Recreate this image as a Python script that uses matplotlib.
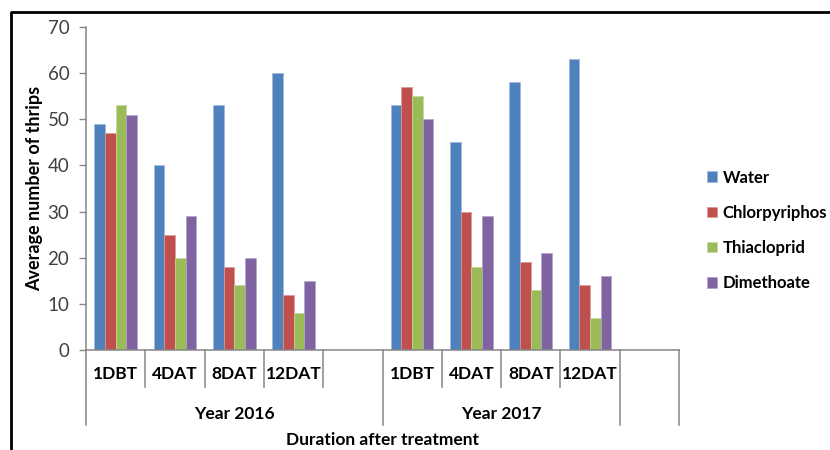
import matplotlib
import numpy as np

matplotlib.use("Agg")
import matplotlib.pyplot as plt
from matplotlib.lines import Line2D

nan = np.nan

# ten category slots: 2016 has a trailing blank row, and one blank group at the end
categories = ["1DBT", "4DAT", "8DAT", "12DAT", "",
              "1DBT", "4DAT", "8DAT", "12DAT", ""]
years = ["Year 2016", "Year 2017", ""]
year_sizes = [5, 4, 1]

series_names = ["Water", "Chlorpyriphos", "Thiacloprid", "Dimethoate"]
water = [49, 40, 53, 60, nan, 53, 45, 58, 63, nan]
chlorpyriphos = [47, 25, 18, 12, nan, 57, 30, 19, 14, nan]
thiacloprid = [53, 20, 14, 8, nan, 55, 18, 13, 7, nan]
dimethoate = [51, 29, 20, 15, nan, 50, 29, 21, 16, nan]

colors = ["#4F81BD", "#C0504D", "#9BBB59", "#8064A2"]
edges = ["#9DB9DC", "#DA9896", "#C4D8A0", "#B3A2C9"]
axis_grey = "#868686"
text_grey = "#404040"

plt.rcParams["font.family"] = ["Lato", "DejaVu Sans"]

W, H = 830, 450
fig = plt.figure(figsize=(W / 100, H / 100), dpi=100)
ax = fig.add_axes([86 / W, 100 / H, (679 - 86) / W, (350 - 27) / H])

n = len(categories)
bar_w = 0.18
x = np.arange(n) + 0.5
for j, (name, vals) in enumerate(zip(series_names, [water, chlorpyriphos, thiacloprid, dimethoate])):
    ax.bar(x + (j - 1.5) * bar_w, vals, width=bar_w, color=colors[j],
           edgecolor=edges[j], linewidth=0.5, label=name)

ax.set_xlim(0, n)
ax.set_ylim(0, 70)
ax.set_yticks(range(0, 71, 10))
ax.set_xticks([])
ax.tick_params(axis="y", direction="out", length=5, width=1, color=axis_grey,
               pad=7, labelsize=13.5, labelcolor=text_grey)
for side in ["top", "right"]:
    ax.spines[side].set_visible(False)
for side in ["left", "bottom"]:
    ax.spines[side].set_color(axis_grey)
    ax.spines[side].set_linewidth(1.1)

# multi-level category axis drawn by hand
tr = ax.get_xaxis_transform()
inner_y, inner_bot = -0.074, -0.115
outer_y, outer_bot = -0.198, -0.232
for i, lab in enumerate(categories):
    ax.text(i + 0.5, inner_y, lab, transform=tr, ha="center", va="center",
            fontsize=12.5, fontweight="bold", color="black")
bounds = np.cumsum([0] + year_sizes)
for b in range(n + 1):
    low = outer_bot if b in bounds else inner_bot
    ax.add_line(Line2D([b, b], [0, low], transform=tr, color=axis_grey,
                       linewidth=1.1, clip_on=False))
for lab, a, b in zip(years, bounds[:-1], bounds[1:]):
    ax.text((a + b) / 2, outer_y, lab, transform=tr, ha="center", va="center",
            fontsize=12.5, fontweight="bold", color="black")

fig.text(35 / W, (450 - 188) / H, "Average number of thrips", rotation=90,
         ha="center", va="center", fontsize=13, fontweight="bold")
fig.text((86 + 679) / 2 / W, 10 / H, "Duration after treatment", ha="center",
         va="center", fontsize=12.5, fontweight="bold")

fig.legend(loc="center left", bbox_to_anchor=(707 / W, 0.488), frameon=False,
           prop={"size": 12, "weight": "bold"}, handlelength=0.6, handleheight=0.6,
           handletextpad=0.35, labelspacing=1.15, borderpad=0, borderaxespad=0)

# black frame at left and top (rest is cropped in the original)
fig.add_artist(Line2D([11 / W, 11 / W, 1], [0, 1 - 12 / H, 1 - 12 / H],
                      transform=fig.transFigure, color="black", linewidth=2))

fig.savefig("out.png", dpi=100)
